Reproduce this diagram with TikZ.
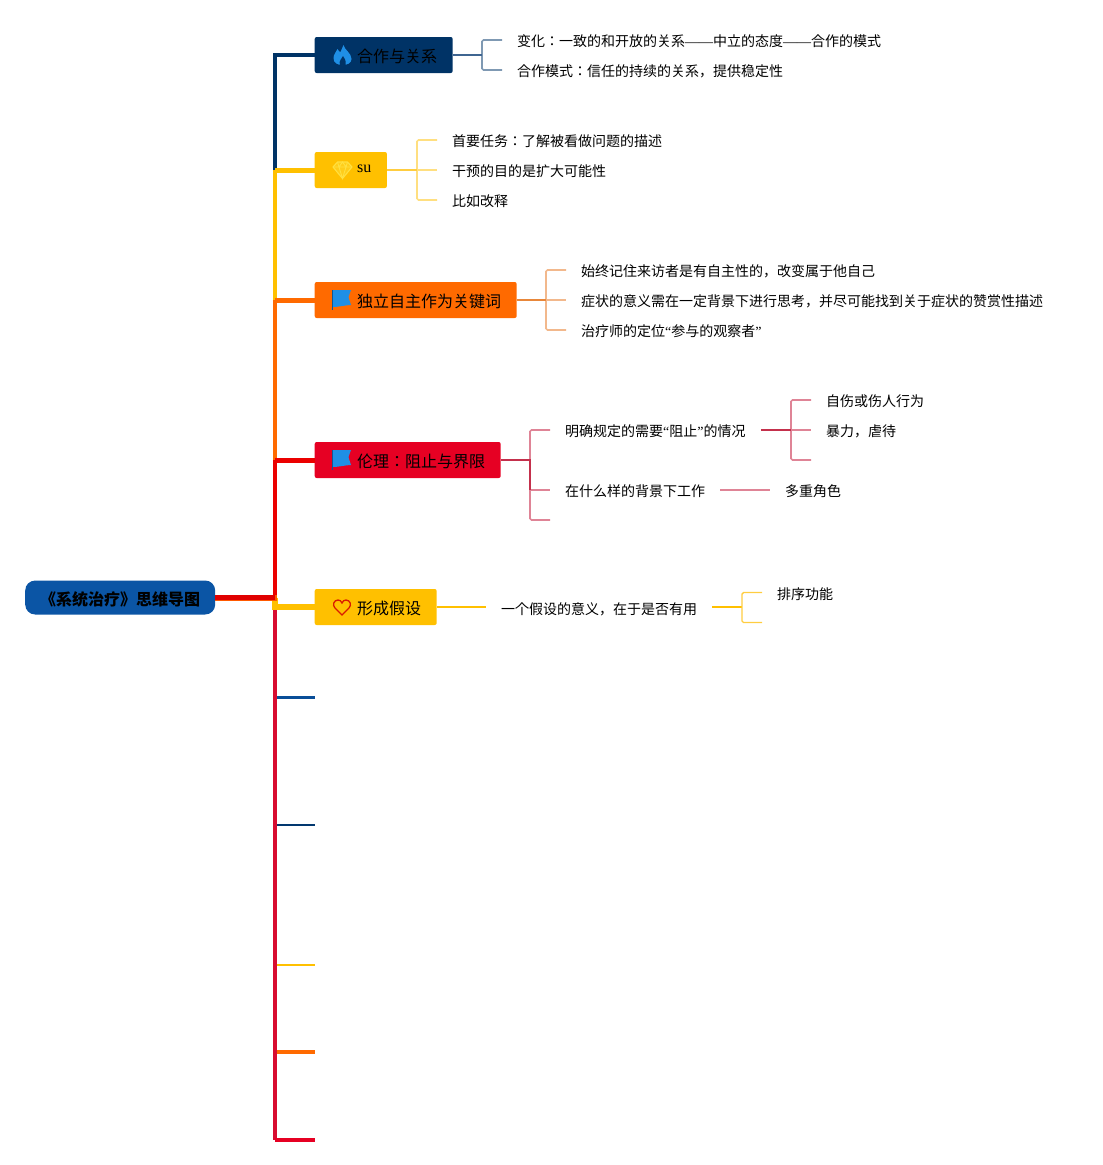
\documentclass[tikz,border=0pt]{standalone}
\usepackage{fontspec}
\setmainfont{Noto Sans CJK JP}
\newfontfamily\serifq{Liberation Serif}
\newcommand{\qt}[1]{{\serifq “}#1{\serifq ”}}
\definecolor{cnavy}{HTML}{003366}
\definecolor{cyel}{HTML}{FFC000}
\definecolor{corg}{HTML}{FF6A00}
\definecolor{cred}{HTML}{E60023}
\definecolor{cblue}{HTML}{0B55A5}
\definecolor{crim}{HTML}{D80C30}
\definecolor{iconblue}{HTML}{1F8FE5}
\definecolor{forkblue}{HTML}{7F99B3}
\definecolor{stemblue}{HTML}{3F6591}
\definecolor{forkyel}{HTML}{FFDF80}
\definecolor{stemyel}{HTML}{FFCD40}
\definecolor{forkorg}{HTML}{F2B88C}
\definecolor{stemorg}{HTML}{E8873A}
\definecolor{forkred}{HTML}{DF8496}
\definecolor{stemred}{HTML}{C4304C}
\definecolor{thinyel}{HTML}{FFC000}
\definecolor{gemyel}{HTML}{FFE040}
\tikzset{
  x=1pt,y=-1pt,
  rootbox/.style={fill=cblue,rounded corners=10pt,font=\fontsize{16}{16}\selectfont\bfseries,minimum height=34pt,inner xsep=15pt,inner ysep=0pt,text height=19.6pt,text depth=3pt,anchor=west},
  mainbox/.style={fill=#1,rounded corners=2pt,font=\fontsize{16}{16}\selectfont,minimum height=36pt,inner xsep=15.5pt,inner ysep=0pt,text height=18.5pt,text depth=3pt,anchor=west},
  leaf/.style={font=\fontsize{14}{14}\selectfont,inner xsep=15pt,inner ysep=0pt,text height=16.6pt,text depth=3pt,anchor=west},
  spine/.style={line width=4.4pt,#1,line join=miter},
  spur/.style={line width=5pt,#1},
  stem/.style={line width=1.7pt,#1},
  fork/.style={line width=1.7pt,#1,rounded corners=1.5pt},
  flameicon/.pic={\fill[iconblue] (1,-10) .. controls (2,-5) and (9,-2) .. (9,4) .. controls (9,8) and (5,10) .. (0,10) .. controls (-5,10) and (-9,8) .. (-9,3) .. controls (-9,-1) and (-6,-3) .. (-5,-6) .. controls (-4,-4) and (-3,-3) .. (-2,-3) .. controls (-1,-5) and (0,-8) .. (1,-10) -- cycle;
    \fill[cnavy] (0.5,1) .. controls (2,3) and (4,6) .. (3,10) -- (-2.5,10) .. controls (-4,6) and (-1,4) .. (0.5,1) -- cycle;},
  gemicon/.pic={\draw[line width=1.1pt,draw=gemyel,fill=gemyel!40!cyel,line join=round] (-5,-8) -- (5,-8) -- (9.5,-3) -- (0,8.5) -- (-9.5,-3) -- cycle;
    \draw[line width=.9pt,gemyel] (-9.5,-3) -- (9.5,-3) (-3.5,-3) -- (0,8.5) -- (3.5,-3) (-5,-8) -- (-3.5,-3) -- (0,-8) -- (3.5,-3) -- (5,-8);},
  flagicon/.pic={\fill[iconblue] (-9,-10) -- (9,-10) .. controls (8,-7) and (7,-5) .. (6.5,-3) .. controls (7,-1) and (8,2) .. (9,5) .. controls (4,5) and (-3,7) .. (-9,7) -- cycle;
    \draw[line width=.9pt,cnavy!60!iconblue] (-9.2,-10) -- (-9.2,10);},
  hearticon/.pic={\draw[line width=1.3pt,draw=red!75!orange!85!black] (0,8) -- (-7,1) .. controls (-10,-2) and (-8,-7) .. (-4,-7) .. controls (-2,-7) and (-1,-6) .. (0,-4) .. controls (1,-6) and (2,-7) .. (4,-7) .. controls (8,-7) and (10,-2) .. (7,1) -- cycle;},
}
\begin{document}
\begin{tikzpicture}
\useasboundingbox (0,0) rectangle (1103,1165);
% named points of the trunk
\coordinate (hub) at (275,597.5);
\coordinate (hubr) at (277,597.5);
\coordinate (s1) at (275,55);
\coordinate (s2) at (275,170);
\coordinate (s3) at (275,300);
\coordinate (s4) at (275,460);
\coordinate (s5) at (275,607);
\coordinate (s6) at (275,697.5);
\coordinate (s7) at (275,825);
\coordinate (s8) at (275,965);
\coordinate (s9) at (275,1052);
\coordinate (s10) at (275,1140);
\coordinate (e6) at (315,697.5);
\coordinate (e7) at (315,825);
\coordinate (e8) at (315,965);
\coordinate (e9) at (315,1052);
\coordinate (e10) at (315,1140);
% main nodes
\node[rootbox] (root) at (25,597.5) {《系统治疗》思维导图};
\node[mainbox=cnavy] (n1) at (314.5,55) {\hspace*{27pt}合作与关系};
\node[mainbox=cyel] (n2) at (314.5,170) {\hspace*{27pt}\raisebox{5.6pt}{\serifq su}};
\node[mainbox=corg] (n3) at (314.5,300) {\hspace*{27pt}独立自主作为关键词};
\node[mainbox=cred] (n4) at (314.5,460) {\hspace*{27pt}伦理：阻止与界限};
\node[mainbox=cyel] (n5) at (314.5,607) {\hspace*{27pt}形成假设};
% trunk
\draw[spine=cnavy] (hub) -- (s1) -- (n1.west);
\draw[spine=cyel] (hub) -- (s2);
\draw[spur=cyel] (s2) -- (n2.west);
\draw[spine=corg] (hub) -- (s3);
\draw[spur=corg] (s3) -- (n3.west);
\draw[spine={red!92!black}] (hub) -- (s4);
\draw[spur={red!92!black}] (s4) -- (n4.west);
\draw[line width=3.4pt,cblue!80!cnavy] (s6) -- (e6);
\draw[line width=2.6pt,cnavy!85!cblue] (s7) -- (e7);
\draw[line width=2pt,cyel] (s8) -- (e8);
\draw[line width=3.4pt,corg] (s9) -- (e9);
\draw[spine=crim] (hub) -- (s10);
\draw[spur=cred,line width=4.4pt] (s10) -- (e10);
\draw[line width=5.5pt,cyel] (hub) -- (s5) -- (n5.west);
\draw[line width=6pt,orange!70!red] (root.east) -- (hubr);
\draw[line width=4.2pt,red!88!black,yshift=-.4pt] (root.east) -- (hub);
% icons
\pic at (342.5,55) {flameicon};
\pic at (342.5,170) {gemicon};
\pic at (342,300) {flagicon};
\pic at (342,460) {flagicon};
\pic at (342,607) {hearticon};
% branch 1
\coordinate (j1) at (482,55);
\node[leaf] (a1) at (502,40) {变化：一致的和开放的关系{\serifq ——}中立的态度{\serifq ——}合作的模式};
\node[leaf] (a2) at (502,70) {合作模式：信任的持续的关系，提供稳定性};
\draw[fork=forkblue] (a1.west) -| (j1) |- (a2.west);
\draw[stem=stemblue] (n1.east) -- (j1);
% branch 2
\coordinate (j2) at (417,170);
\node[leaf] (b1) at (437,140) {首要任务：了解被看做问题的描述};
\node[leaf] (b2) at (437,170) {干预的目的是扩大可能性};
\node[leaf] (b3) at (437,200) {比如改释};
\draw[fork=forkyel] (b1.west) -| (j2) |- (b3.west);
\draw[stem=forkyel] (j2) -- (b2.west);
\draw[stem=stemyel] (n2.east) -- (j2);
% branch 3
\coordinate (j3) at (546,300);
\node[leaf] (c1) at (566,270) {始终记住来访者是有自主性的，改变属于他自己};
\node[leaf] (c2) at (566,300) {症状的意义需在一定背景下进行思考，并尽可能找到关于症状的赞赏性描述};
\node[leaf] (c3) at (566,330) {治疗师的定位\qt{参与的观察者}};
\draw[fork=forkorg] (c1.west) -| (j3) |- (c3.west);
\draw[stem=forkorg] (j3) -- (c2.west);
\draw[stem=stemorg] (n3.east) -- (j3);
% branch 4
\coordinate (j4) at (530,460);
\coordinate (j4b) at (530,490);
\coordinate (j5) at (791,430);
\node[leaf] (d1) at (550,430) {明确规定的需要\qt{阻止}的情况};
\node[leaf] (d2) at (550,490) {在什么样的背景下工作};
\coordinate (d3) at (550,520);
\node[leaf] (f1) at (811,400) {自伤或伤人行为};
\node[leaf] (f2) at (811,430) {暴力，虐待};
\coordinate (f3) at (811,460);
\node[leaf] (g1) at (770,490) {多重角色};
\draw[fork=forkred] (d1.west) -| (j4) |- (d3);
\draw[stem=forkred] (j4b) -- (d2.west);
\draw[stem=stemred] (n4.east) -- (j4) -- (j4b);
\draw[fork=forkred] (f1.west) -| (j5) |- (f3);
\draw[stem=forkred] (j5) -- (f2.west);
\draw[stem=stemred] (d1.east) -- (j5);
\draw[stem=forkred] (d2.east) -- (g1.west);
% branch 5
\coordinate (j6) at (742,607);
\node[leaf] (h1) at (486,607.5) {一个假设的意义，在于是否有用};
\node[leaf] (k1) at (762,592.5) {排序功能};
\coordinate (k2) at (762,622.5);
\draw[line width=1.6pt,thinyel] (n5.east) -- (n5.east -| h1.west);
\draw[line width=1.6pt,thinyel] (h1.east |- j6) -- (j6);
\draw[line width=1.4pt,stemyel,rounded corners=1.5pt] (k1.west) -| (j6) |- (k2);
\end{tikzpicture}
\end{document}
